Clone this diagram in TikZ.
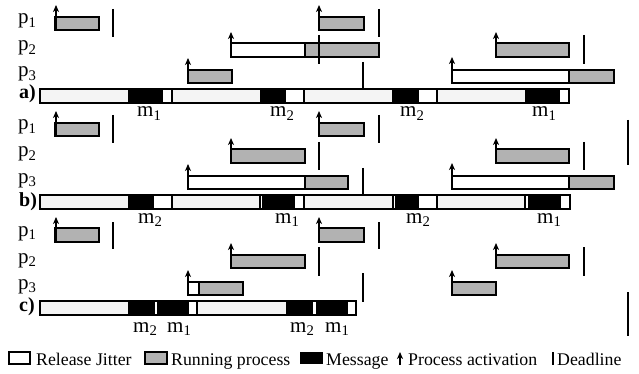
\documentclass[tikz,border=0pt]{standalone}
\usepackage{fontspec}
\setmainfont{Liberation Serif}
\usetikzlibrary{arrows.meta}
\definecolor{runcol}{RGB}{178,178,178}
\definecolor{slotcol}{RGB}{244,244,244}

\begin{document}
\begin{tikzpicture}[x=1pt, y=-1pt,
    run/.style={draw, line width=1.5pt, fill=runcol},
    jit/.style={draw, line width=1.5pt, fill=white},
    slot/.style={draw, line width=1.2pt, fill=slotcol},
    cut/.style={line width=1.5pt},
    dline/.style={line width=2.8pt},
    act/.style={-{Stealth[length=7pt,width=6pt,inset=2pt]}, line width=1.2pt},
    lbl/.style={anchor=base west, inner sep=0pt, font=\fontsize{21}{24}\selectfont},
    sec/.style={anchor=base west, inner sep=0pt, font=\fontsize{20}{22}\selectfont\bfseries},
    key/.style={anchor=base west, inner sep=0pt, font=\fontsize{17.8}{20}\selectfont}]
  \useasboundingbox (0,0) rectangle (639,374);

  % a)
  \node[lbl] (pa1) at (18,24) {p\textsubscript{1}};
  \node[lbl] (pa2) at (18,51) {p\textsubscript{2}};
  \node[lbl] (pa3) at (18,77) {p\textsubscript{3}};
  \node[sec] (sa) at (19,99) {a)};
  \draw[run] (55,17) rectangle (99,30);
  \draw[run] (319,17) rectangle (364,30);
  \draw[jit] (231,43) rectangle (305,57);
  \draw[run] (305,43) rectangle (379,57);
  \draw[run] (496,43) rectangle (569,57);
  \draw[run] (188,70) rectangle (232,83);
  \draw[jit] (452,70) rectangle (569,83);
  \draw[run] (569,70) rectangle (614,83);
  \draw[act] (56,30) -- (56,5);
  \draw[act] (319,30) -- (319,5);
  \draw[act] (231,57) -- (231,32);
  \draw[act] (496,57) -- (496,32);
  \draw[act] (188,83) -- (188,58);
  \draw[act] (452,83) -- (452,57);
  \draw[dline] (113,9) -- (113,37);
  \draw[dline] (379,9) -- (379,37);
  \draw[dline] (319,35) -- (319,64);
  \draw[dline] (584,35) -- (584,64);
  \draw[dline] (363,62) -- (363,90);
  \draw[jit] (40,89) rectangle (569,103);
  \draw[slot] (40,89) rectangle (129,103);
  \fill (129,89) rectangle (163,103);
  \draw[cut] (172,89) -- (172,103);
  \draw[slot] (172,89) rectangle (261,103);
  \fill (261,89) rectangle (286,103);
  \draw[cut] (304,89) -- (304,103);
  \draw[slot] (304,89) rectangle (393,103);
  \fill (393,89) rectangle (419,103);
  \draw[cut] (437,89) -- (437,103);
  \draw[slot] (437,89) rectangle (526,103);
  \fill (526,89) rectangle (560,103);
  \draw[cut] (40,89) rectangle (569,103);
  \node[lbl] (ma1) at (137,117) {m\textsubscript{1}};
  \node[lbl] (ma2) at (270,117) {m\textsubscript{2}};
  \node[lbl] (ma3) at (400,117) {m\textsubscript{2}};
  \node[lbl] (ma4) at (532,117) {m\textsubscript{1}};

  % b)
  \begin{scope}[shift={(0,106)}]
  \node[lbl] (pb1) at (18,24) {p\textsubscript{1}};
  \node[lbl] (pb2) at (18,51) {p\textsubscript{2}};
  \node[lbl] (pb3) at (18,77) {p\textsubscript{3}};
  \node[sec] (sb) at (19,100) {b)};
  \draw[run] (55,17) rectangle (99,30);
  \draw[run] (319,17) rectangle (364,30);
  \draw[run] (231,43) rectangle (305,57);
  \draw[run] (496,43) rectangle (569,57);
  \draw[jit] (188,70) rectangle (305,83);
  \draw[run] (305,70) rectangle (348,83);
  \draw[jit] (452,70) rectangle (569,83);
  \draw[run] (569,70) rectangle (614,83);
  \draw[act] (56,30) -- (56,5);
  \draw[act] (319,30) -- (319,5);
  \draw[act] (231,57) -- (231,32);
  \draw[act] (496,57) -- (496,32);
  \draw[act] (188,83) -- (188,58);
  \draw[act] (452,83) -- (452,57);
  \draw[dline] (113,9) -- (113,37);
  \draw[dline] (379,9) -- (379,37);
  \draw[dline] (319,36) -- (319,64);
  \draw[dline] (584,36) -- (584,64);
  \draw[dline] (363,62) -- (363,90);
  \draw[dline] (628,14) -- (628,59);
  \draw[jit] (40,89) rectangle (570,103);
  \draw[slot] (40,89) rectangle (129,103);
  \fill (129,89) rectangle (154,103);
  \draw[cut] (172,89) -- (172,103);
  \draw[slot] (172,89) rectangle (260,103);
  \fill (262,89) rectangle (295,103);
  \draw[cut] (304,89) -- (304,103);
  \draw[slot] (304,89) rectangle (393,103);
  \fill (395,89) rectangle (419,103);
  \draw[cut] (437,89) -- (437,103);
  \draw[slot] (437,89) rectangle (525,103);
  \fill (528,89) rectangle (561,103);
  \draw[cut] (40,89) rectangle (570,103);
  \node[lbl] (mb1) at (138,117) {m\textsubscript{2}};
  \node[lbl] (mb2) at (275,117) {m\textsubscript{1}};
  \node[lbl] (mb3) at (406,117) {m\textsubscript{2}};
  \node[lbl] (mb4) at (537,117) {m\textsubscript{1}};
  \end{scope}

  % c)
  \begin{scope}[shift={(0,211)}]
  \node[lbl] (pc1) at (18,25) {p\textsubscript{1}};
  \node[lbl] (pc2) at (18,52) {p\textsubscript{2}};
  \node[lbl] (pc3) at (18,78) {p\textsubscript{3}};
  \node[sec] (sc) at (19,100) {c)};
  \draw[run] (55,17) rectangle (99,31);
  \draw[run] (319,17) rectangle (364,31);
  \draw[run] (231,44) rectangle (305,57);
  \draw[run] (496,44) rectangle (569,57);
  \draw[jit] (188,71) rectangle (199,84);
  \draw[run] (199,71) rectangle (243,84);
  \draw[run] (452,71) rectangle (496,84);
  \draw[act] (56,31) -- (56,6);
  \draw[act] (319,31) -- (319,6);
  \draw[act] (231,57) -- (231,32);
  \draw[act] (496,57) -- (496,32);
  \draw[act] (188,84) -- (188,59);
  \draw[act] (452,84) -- (452,59);
  \draw[dline] (113,11) -- (113,38);
  \draw[dline] (379,11) -- (379,38);
  \draw[dline] (319,36) -- (319,65);
  \draw[dline] (584,36) -- (584,65);
  \draw[dline] (363,62) -- (363,91);
  \draw[dline] (628,81) -- (628,125);
  \draw[jit] (40,90) rectangle (356,104);
  \draw[slot] (40,90) rectangle (129,104);
  \fill (129,90) rectangle (155,104);
  \fill (157,90) rectangle (189,104);
  \draw[cut] (197,90) -- (197,104);
  \draw[slot] (197,90) rectangle (287,104);
  \fill (287,90) rectangle (313,104);
  \fill (316,90) rectangle (348,104);
  \draw[cut] (40,90) rectangle (356,104);
  \node[lbl] (mc1) at (133,121) {m\textsubscript{2}};
  \node[lbl] (mc2) at (167,121) {m\textsubscript{1}};
  \node[lbl] (mc3) at (290,121) {m\textsubscript{2}};
  \node[lbl] (mc4) at (325,121) {m\textsubscript{1}};
  \end{scope}

  % legend
  \draw[jit] (9,352) rectangle (30,364);
  \node[key] (kj) at (36,365) {Release Jitter};
  \draw[run] (145,352) rectangle (167,364);
  \node[key] (kr) at (171,365) {Running process};
  \fill (300,352) rectangle (323,364);
  \node[key] (km) at (326,365) {Message};
  \draw[act] (400,365) -- (400,352);
  \node[key] (ka) at (408,365) {Process activation};
  \draw[dline] (553,352) -- (553,365);
  \node[key] (kd) at (557,365) {Deadline};
\end{tikzpicture}
\end{document}
